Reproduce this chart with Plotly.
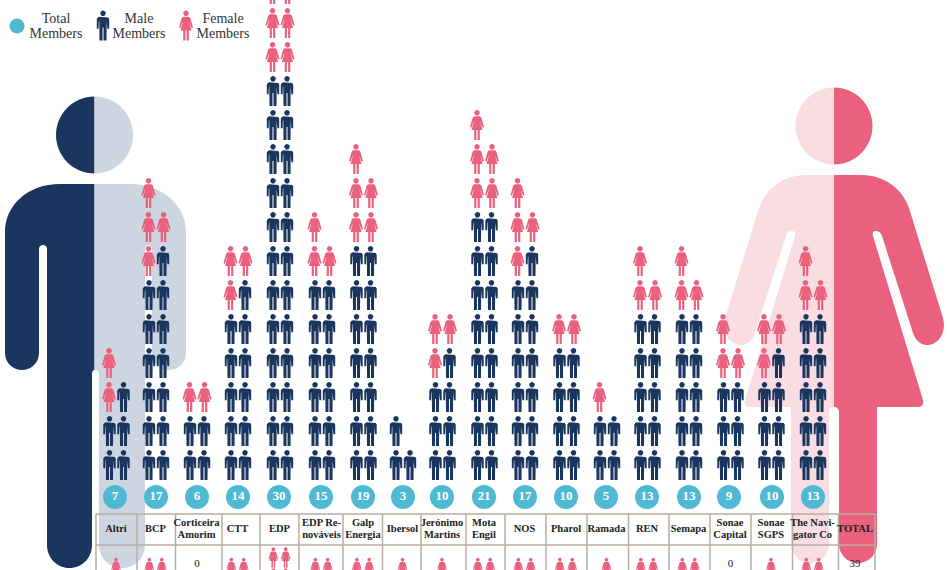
import math
import plotly.graph_objects as go

# board members per company
companies = ['Altri', 'BCP', 'Corticeira\nAmorim', 'CTT', 'EDP', 'EDP Re-\nnováveis', 'Galp\nEnergia', 'Ibersol',
             'Jerónimo\nMartins', 'Mota\nEngil', 'NOS', 'Pharol', 'Ramada', 'REN', 'Semapa', 'Sonae\nCapital',
             'Sonae\nSGPS', 'The Navi-\ngator Co']
total_members = [7, 17, 6, 14, 30, 15, 19, 3, 10, 21, 17, 10, 5, 13, 13, 9, 10, 13]
male_members = [5, 13, 4, 11, 24, 12, 14, 3, 7, 16, 13, 8, 4, 10, 10, 6, 7, 10]
female_members = [2, 4, 2, 3, 6, 3, 5, 0, 3, 5, 4, 2, 1, 3, 3, 3, 3, 3]
# lower table row, cut off by the picture
lower_row = [1, 2, 0, 2, 4, 2, 2, 1, 1, 2, 2, 2, 1, 2, 2, 0, 1, 2]
total_label = 'TOTAL'
total_lower = 39

NAVY = '#1a355e'
NAVY_LIGHT = '#cdd5e0'
PINK = '#e9617d'
PINK_LIGHT = '#f9dde3'
TEAL = '#4fb8d3'
RULE = '#b8aea0'
SERIF = 'Liberation Serif'

col_x = [116.5, 156, 197, 238, 280, 322, 363.5, 403, 442.5, 484.5, 525, 566.5, 607, 647.5, 689, 730.5, 771.5, 813]
edges = [96, 137, 175.5, 222, 260, 299, 343, 382.5, 421, 466, 505, 546, 587, 628.5, 669, 710, 751, 792.5, 838.5, 875]

MALE_BODY = [(-3.6, -8.7), (3.6, -8.7), (5.2, -8), (6.2, -6.5), (6.2, 3.2), (4.4, 3.2), (4.1, -4.5), (3.7, -4.5),
             (3.5, 15), (0.5, 15), (0.5, 2), (-0.5, 2), (-0.5, 15), (-3.5, 15), (-3.7, -4.5), (-4.1, -4.5),
             (-4.4, 3.2), (-6.2, 3.2), (-6.2, -6.5), (-5.2, -8)]
FEMALE_BODY = [(-2.8, -8.7), (2.8, -8.7), (4.3, -7.5), (7, 2), (5.6, 2.8), (3.8, -2.5), (3, -4), (5.5, 5), (2.8, 5),
               (2.8, 15), (0.6, 15), (0.6, 5), (-0.6, 5), (-0.6, 15), (-2.8, 15), (-2.8, 5), (-5.5, 5), (-3, -4),
               (-3.8, -2.5), (-5.6, 2.8), (-7, 2), (-4.3, -7.5)]


def add_icon(xs, ys, body, cx, cy, k=1.0):
    for px, py in body + body[:1]:
        xs.append(cx + px * k)
        ys.append(cy + py * k)
    xs.append(None)
    ys.append(None)
    for a in range(17):
        xs.append(cx + 2.8 * k * math.cos(a * math.pi / 8))
        ys.append(cy - 12.2 * k + 2.8 * k * math.sin(a * math.pi / 8))
    xs.append(None)
    ys.append(None)


mx, my, fx, fy = [], [], [], []
for i in range(len(companies)):
    m, f = male_members[i], female_members[i]
    row = 0
    while m + f > 0:
        y = 465 - 34 * row
        if m >= 2:
            add_icon(mx, my, MALE_BODY, col_x[i] - 7, y)
            add_icon(mx, my, MALE_BODY, col_x[i] + 7, y)
            m -= 2
        elif m == 1 and f >= 1:
            add_icon(fx, fy, FEMALE_BODY, col_x[i] - 7.5, y)
            add_icon(mx, my, MALE_BODY, col_x[i] + 7, y)
            m, f = 0, f - 1
        elif m == 1:
            add_icon(mx, my, MALE_BODY, col_x[i] - 7, y)
            m = 0
        elif f >= 2:
            add_icon(fx, fy, FEMALE_BODY, col_x[i] - 7.5, y)
            add_icon(fx, fy, FEMALE_BODY, col_x[i] + 7.5, y)
            f -= 2
        else:
            add_icon(fx, fy, FEMALE_BODY, col_x[i] - 7.5, y)
            f = 0
        row += 1

# lower table row, smaller icons
for i, n in enumerate(lower_row):
    rows = (n + 1) // 2
    for j in range(n):
        r = j // 2
        dx = 0 if n == 1 else (-6.2 if j % 2 == 0 else 6.2)
        y = 568 - 10.5 * (rows - 1) + 21 * r
        add_icon(fx, fy, FEMALE_BODY, col_x[i] - 0.5 + dx, y, 0.68)

# legend icons
add_icon(mx, my, MALE_BODY, 103, 25.5)
add_icon(fx, fy, FEMALE_BODY, 186, 25.5)


def half_circle(cx, cy, r, side):
    k = 0.5523 * r
    return (f'M{cx},{cy - r} C{cx + side * k},{cy - r} {cx + side * r},{cy - k} {cx + side * r},{cy} '
            f'C{cx + side * r},{cy + k} {cx + side * k},{cy + r} {cx},{cy + r} Z')


man_left = ('M94.5,184 L60,184 C28,184 5,205 5,232 L5,353 C5,363 13,370 22,370 C31,370 39,363 39,353 L39,249 '
            'C39,246 41,245 43,245 C45,245 47,246 47,249 L47,545 C47,558 57,568 69.5,568 C82,568 92,558 92,545 '
            'L92,374 C92,371 93,370 94.5,370 Z')
man_right = ('M94.5,184 L130,184 C162,184 186,205 186,232 L186,353 C186,363 178,370 169,370 C160,370 152,363 152,353 '
             'L152,249 C152,246 150,245 148.5,245 C147,245 145,246 145,249 L145,545 C145,558 135,568 122,568 '
             'C109,568 99,558 99,545 L99,374 C99,371 97,370 94.5,370 Z')

woman_cmds = [('M', [(834, 175)]), ('L', [(862, 175)]), ('C', [(885, 175), (903, 190), (909, 208)]),
              ('L', [(943, 318)]), ('C', [(947, 333), (938, 345), (927, 345)]), ('C', [(920, 345), (915, 339), (913, 333)]),
              ('L', [(882, 236)]), ('C', [(881, 232), (878, 231), (876, 231)]), ('C', [(873, 231), (872, 233), (873, 236)]),
              ('L', [(923, 400)]), ('C', [(924, 404), (922, 407), (919, 407)]), ('L', [(877, 407)]),
              ('L', [(877, 544)]), ('C', [(877, 555), (868, 563), (858, 563)]), ('C', [(848, 563), (839, 555), (839, 544)]),
              ('L', [(839, 412)]), ('C', [(839, 409), (837, 407), (834, 407)])]


def woman_path(mirror):
    out = []
    for c, pts in woman_cmds:
        out.append(c + ' '.join(f'{1668 - x if mirror else x},{y}' for x, y in pts))
    return ' '.join(out) + ' Z'


def filled(path, color):
    return dict(type='path', path=path, fillcolor=color, line_width=0, layer='below', xref='x', yref='y')


shapes = [
    filled(half_circle(94.5, 135, 38.5, -1), NAVY),
    filled(half_circle(94.5, 135, 38.5, 1), NAVY_LIGHT),
    filled(man_left, NAVY),
    filled(man_right, NAVY_LIGHT),
    filled(half_circle(834, 126, 38.5, -1), PINK_LIGHT),
    filled(half_circle(834, 126, 38.5, 1), PINK),
    filled(woman_path(True), PINK_LIGHT),
    filled(woman_path(False), PINK),
]
for y in [514, 545]:
    shapes.append(dict(type='line', x0=edges[0], x1=edges[-1], y0=y, y1=y, layer='below',
                       line=dict(color=RULE, width=1.5)))
for x in edges:
    shapes.append(dict(type='line', x0=x, x1=x, y0=514, y1=570, layer='below', line=dict(color=RULE, width=1.5)))

fig = go.Figure()
fig.add_trace(go.Scatter(x=mx, y=my, mode='lines', fill='toself', fillcolor=NAVY, line=dict(width=0, color=NAVY),
                         hoverinfo='skip'))
fig.add_trace(go.Scatter(x=fx, y=fy, mode='lines', fill='toself', fillcolor=PINK, line=dict(width=0, color=PINK),
                         hoverinfo='skip'))

# teal circles with totals
circle_x = [115, 156, 197, 238, 279, 321, 363, 403, 442, 484, 525, 566, 606, 647, 689, 729, 772, 813]
fig.add_trace(go.Scatter(x=circle_x, y=[497] * len(circle_x), mode='markers+text', text=total_members,
                         marker=dict(size=24, color=TEAL),
                         textfont=dict(family=SERIF, size=13, color='white', weight='bold')))
fig.add_trace(go.Scatter(x=[17], y=[26], mode='markers', marker=dict(size=15, color=TEAL)))

# table labels, two lines drawn one by one to get the tight leading
lx, ly, lt = [], [], []
for x, name in zip(col_x, companies):
    parts = name.split('\n')
    for j, p in enumerate(parts):
        lx.append(x - 0.5)
        ly.append(529.5 + (j - (len(parts) - 1) / 2) * 11.5)
        lt.append(p)
lx.append(855)
ly.append(529.5)
lt.append(total_label)
fig.add_trace(go.Scatter(x=lx, y=ly, mode='text', text=lt,
                         textfont=dict(family=SERIF, size=10.5, color='#222222', weight='bold')))

# zeros and total in the lower row
zero_x = [col_x[i] for i, n in enumerate(lower_row) if n == 0] + [855]
zero_t = [0 for n in lower_row if n == 0] + [total_lower]
fig.add_trace(go.Scatter(x=zero_x, y=[564] * len(zero_x), mode='text', text=zero_t,
                         textfont=dict(family=SERIF, size=11, color='#222222')))

fig.add_trace(go.Scatter(x=[56, 56, 139, 139, 223, 223], y=[19, 34, 19, 34, 19, 34], mode='text',
                         text=['Total', 'Members', 'Male', 'Members', 'Female', 'Members'],
                         textfont=dict(family=SERIF, size=14, color='#333333')))

fig.update_layout(
    width=950, height=570, margin=dict(l=0, r=0, t=0, b=0), showlegend=False, hovermode=False,
    paper_bgcolor='white', plot_bgcolor='white', shapes=shapes,
    xaxis=dict(range=[0, 950], visible=False, fixedrange=True),
    yaxis=dict(range=[570, 0], visible=False, fixedrange=True),
)
fig.write_html('out.html', config={'displayModeBar': False}, post_script='document.body.style.margin = "0";')
